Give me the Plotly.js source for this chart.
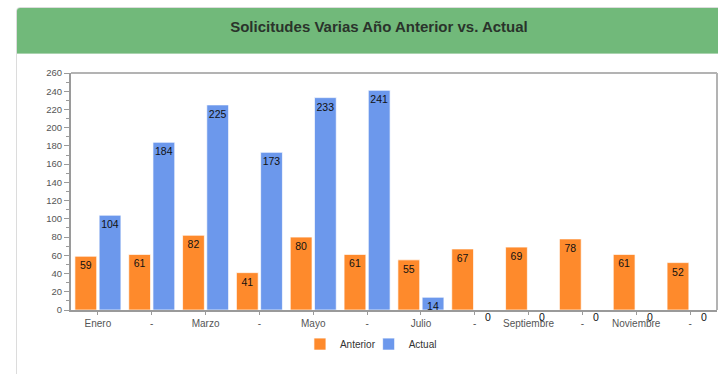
<!DOCTYPE html>
<html>
<head>
<meta charset="utf-8">
<script src="https://cdn.plot.ly/plotly-3.0.1.min.js"></script>
<style>
  html, body { margin: 0; padding: 0; background: #fff; width: 718px; height: 374px; overflow: hidden; font-family: "Liberation Sans", Arial, sans-serif; }
  #card { position: absolute; left: 16px; top: 7px; width: 724px; height: 380px; border: 1px solid #dcdcdc; border-radius: 4px; box-sizing: border-box; overflow: hidden; }
  #head { position: absolute; left: 0; top: 0; width: 100%; height: 45px; background: #71b97a; border-bottom: 1px solid #a9d3ae; }
  #title { position: absolute; left: 0; top: 10px; width: 724px; text-align: center; font-weight: bold; font-size: 15px; color: #2a332b; }
  #chart { position: absolute; left: 0; top: 0; width: 718px; height: 374px; }
</style>
</head>
<body>
<div id="card"><div id="head"><div id="title">Solicitudes Varias Año Anterior vs. Actual</div></div></div>
<div id="chart"></div>
<script>
const months = ['Enero','Febrero','Marzo','Abril','Mayo','Junio','Julio','Agosto','Septiembre','Octubre','Noviembre','Diciembre'];
const tickLabels = ['Enero','-','Marzo','-','Mayo','-','Julio','-','Septiembre','-','Noviembre','-'];
const anterior = [59, 61, 82, 41, 80, 61, 55, 67, 69, 78, 61, 52];
const actual = [104, 184, 225, 173, 233, 241, 14, 0, 0, 0, 0, 0];
const seriesNames = ['Anterior', 'Actual'];
const colors = ['#fe8a2c', '#6c98ec'];

function labels(vals) { return vals.map(v => v === 0 ? '' : String(v)); }

function barTrace(name, vals, color) {
  return {
    type: 'bar', name: name, x: months, y: vals,
    text: labels(vals), textposition: 'inside', insidetextanchor: 'end', textangle: 0,
    constraintext: 'none', cliponaxis: false,
    textfont: { color: '#111', size: 10.5, family: 'Liberation Sans, Arial, sans-serif' },
    marker: { color: color, line: { color: 'rgba(255,255,255,0.7)', width: 1 } },
    hoverinfo: 'x+y'
  };
}

const traces = [barTrace(seriesNames[0], anterior, colors[0]), barTrace(seriesNames[1], actual, colors[1])];

const annotations = [];
[anterior, actual].forEach((vals, s) => {
  vals.forEach((v, i) => {
    if (v === 0) {
      annotations.push({ x: i + (s === 0 ? -0.25 : 0.25), y: 0, xref: 'x', yref: 'y', text: '0', showarrow: false,
        yanchor: 'middle', yshift: -7, font: { size: 10.5, color: '#111', family: 'Liberation Sans, Arial, sans-serif' } });
    }
  });
});

const layout = {
  width: 718, height: 374,
  paper_bgcolor: 'rgba(0,0,0,0)', plot_bgcolor: 'rgba(0,0,0,0)',
  margin: { l: 71, r: 1, t: 73, b: 64, pad: 0 },
  font: { family: 'Liberation Sans, Arial, sans-serif', color: '#555', size: 9 },
  barmode: 'group', bargap: 0.1, bargroupgap: 0.1,
  showlegend: true,
  legend: { orientation: 'h', xref: 'container', yref: 'container', x: 0.525, y: 0.08, xanchor: 'center', yanchor: 'middle',
    font: { size: 10, color: '#333' }, itemwidth: 30, indentation: -12, traceorder: 'normal' },
  xaxis: {
    type: 'category', tickmode: 'array', tickvals: months, ticktext: tickLabels,
    showgrid: false, zeroline: false, showline: true, linecolor: '#9a9a9a', linewidth: 2,
    ticks: 'outside', ticklen: 3, tickcolor: '#9a9a9a', tickfont: { size: 10, color: '#555' }, fixedrange: true
  },
  yaxis: {
    range: [0, 260], dtick: 20, showgrid: false, zeroline: false, showline: true, linecolor: '#9a9a9a', linewidth: 2,
    ticks: 'outside', ticklen: 5, tickcolor: '#9a9a9a', tickfont: { size: 9.5, color: '#555' },
    minor: { dtick: 10, ticks: 'outside', ticklen: 3, tickcolor: '#9a9a9a', showgrid: false }, fixedrange: true
  },
  shapes: [
    { type: 'line', xref: 'paper', yref: 'paper', x0: 0, x1: 1, y0: 1, y1: 1, line: { color: '#b3b3b3', width: 2 } },
    { type: 'line', xref: 'paper', yref: 'paper', x0: 1, x1: 1, y0: 0, y1: 1, line: { color: '#b3b3b3', width: 2 } }
  ],
  annotations: annotations
};

Plotly.newPlot('chart', traces, layout, { displayModeBar: false, staticPlot: true });
</script>
</body>
</html>
